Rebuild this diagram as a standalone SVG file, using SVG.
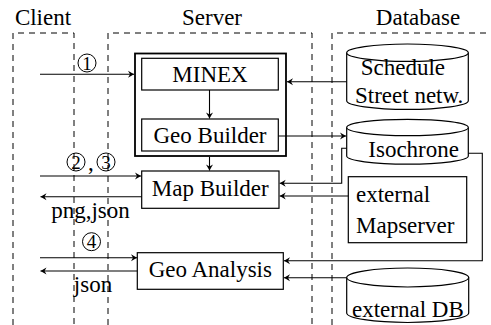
<svg xmlns="http://www.w3.org/2000/svg" width="491" height="325" viewBox="0 0 491 325">
<defs>
<style>
text{font-family:"Liberation Serif","Times New Roman",serif;font-size:23px;fill:#000}
.num{font-size:19px}
.box{fill:#fff;stroke:#000;stroke-width:1.2}
.dash{fill:none;stroke:#000;stroke-width:1;stroke-dasharray:6,5}
.con{fill:none;stroke:#000;stroke-width:1.1}
.circ{fill:none;stroke:#000;stroke-width:1}
</style>
<marker id="ah" viewBox="-7 -4 8 8" refX="0" refY="0" markerWidth="8" markerHeight="8" markerUnits="userSpaceOnUse" orient="auto">
<path d="M0,0 L-6,-3.5 L-4,0 L-6,3.5 Z" fill="#000"/>
</marker>
</defs>
<rect width="491" height="325" fill="#fff"/>
<g id="lanes">
<path class="dash" d="M13,325 V33 H74 V325"/>
<path class="dash" d="M108,325 V33 H312 V325"/>
<path class="dash" d="M332,325 V33 H491"/>
<text x="43" y="25" text-anchor="middle">Client</text>
<text x="212" y="25" text-anchor="middle">Server</text>
<text x="418" y="25" text-anchor="middle">Database</text>
</g>
<g id="server-frame">
<rect x="135" y="53.5" width="151" height="102.5" fill="none" stroke="#000" stroke-width="1.8"/>
</g>
<g id="minex">
<rect class="box" x="141.7" y="58.3" width="136.6" height="31.7"/>
<text x="210" y="81.7" text-anchor="middle">MINEX</text>
</g>
<g id="geo-builder">
<rect class="box" x="141.7" y="119" width="136.6" height="32"/>
<text x="210" y="142.7" text-anchor="middle">Geo Builder</text>
</g>
<g id="map-builder">
<rect class="box" x="141.7" y="171" width="137.3" height="37.3"/>
<text x="210.3" y="196" text-anchor="middle">Map Builder</text>
</g>
<g id="geo-analysis">
<rect class="box" x="137.3" y="252.7" width="146" height="36.6"/>
<text x="210.3" y="277" text-anchor="middle">Geo Analysis</text>
</g>
<g id="schedule-db">
<path class="box" d="M346.7,52.7 V100.7 A60.8,8.7 0 0 0 468.3,100.7 V52.7"/>
<ellipse class="box" cx="407.5" cy="52.7" rx="60.8" ry="8.7"/>
<text x="360.7" y="75">Schedule</text>
<text x="355" y="103.3">Street netw.</text>
</g>
<g id="isochrone-db">
<path class="box" d="M346.7,127.5 V156 A60.8,8.2 0 0 0 468.3,156 V127.5"/>
<ellipse class="box" cx="407.5" cy="127.5" rx="60.8" ry="8.2"/>
<text x="368.3" y="157.3">Isochrone</text>
</g>
<g id="external-mapserver">
<rect class="box" x="348.3" y="176.7" width="118.4" height="66"/>
<text x="356" y="201.7">external</text>
<text x="356" y="233.3">Mapserver</text>
</g>
<g id="external-db">
<path class="box" d="M346.7,277.5 V313 A61,9.5 0 0 0 468.7,313 V277.5"/>
<ellipse class="box" cx="407.7" cy="277.5" rx="61" ry="9.5"/>
<text x="352" y="316.7">external DB</text>
</g>
<g id="connectors">
<path class="con" d="M40,74.3 H134" marker-end="url(#ah)"/>
<path class="con" d="M346.7,81.7 H287" marker-end="url(#ah)"/>
<path class="con" d="M209.5,90 V118.5" marker-end="url(#ah)"/>
<path class="con" d="M278.3,136 H346" marker-end="url(#ah)"/>
<path class="con" d="M209.5,157 V170.5" marker-end="url(#ah)"/>
<path class="con" d="M40,176 H141" marker-end="url(#ah)"/>
<path class="con" d="M141.7,196.7 H40.5" marker-end="url(#ah)"/>
<path class="con" d="M346.7,148.3 H341.7 V183.3 H279.7" marker-end="url(#ah)"/>
<path class="con" d="M348.3,196 H279.7" marker-end="url(#ah)"/>
<path class="con" d="M468.3,153.3 H482.3 V260.7 H284" marker-end="url(#ah)"/>
<path class="con" d="M346.7,277.7 H284" marker-end="url(#ah)"/>
<path class="con" d="M40,257.7 H137" marker-end="url(#ah)"/>
<path class="con" d="M137.3,271 H40.5" marker-end="url(#ah)"/>
</g>
<g id="labels">
<circle class="circ" cx="87" cy="63" r="9"/>
<text class="num" x="87" y="69.5" text-anchor="middle">1</text>
<circle class="circ" cx="76" cy="162" r="9"/>
<text class="num" x="76" y="168.5" text-anchor="middle">2</text>
<text x="88" y="170">,</text>
<circle class="circ" cx="106" cy="162" r="9"/>
<text class="num" x="106" y="168.5" text-anchor="middle">3</text>
<text x="90.5" y="218" text-anchor="middle">png,json</text>
<circle class="circ" cx="91.5" cy="241.7" r="9"/>
<text class="num" x="91.5" y="248.2" text-anchor="middle">4</text>
<text x="93" y="292" text-anchor="middle">json</text>
</g>
</svg>
